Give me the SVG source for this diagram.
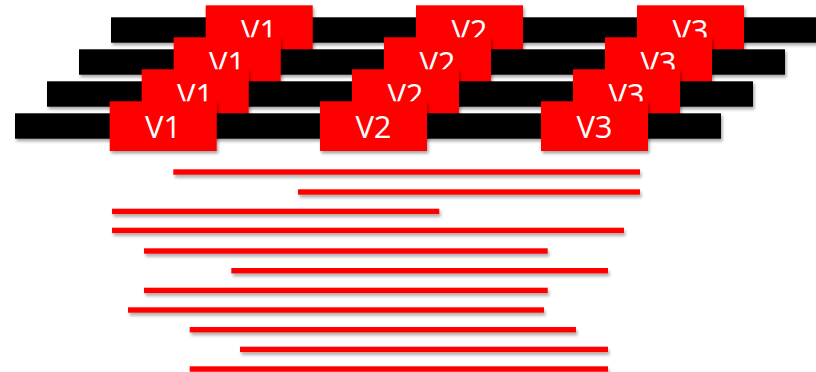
<svg xmlns="http://www.w3.org/2000/svg" width="816" height="372" viewBox="0 0 816 372">
  <defs>
    <filter id="shadow" x="-5%" y="-30%" width="110%" height="180%">
      <feDropShadow dx="1.5" dy="2.5" stdDeviation="1.6" flood-color="#000" flood-opacity="0.35"/>
    </filter>
    <filter id="lineShadow" x="-5%" y="-100%" width="110%" height="400%">
      <feDropShadow dx="1.5" dy="3" stdDeviation="1.8" flood-color="#000" flood-opacity="0.3"/>
    </filter>
  </defs>
  <style>
    .bar { fill: #000; filter: url(#shadow); }
    .box { fill: #ff0000; filter: url(#shadow); }
    .lbl { fill: #fff; font-family: "Open Sans", "Liberation Sans", sans-serif; font-size: 31px; text-anchor: middle; }
    .seg { fill: #ff0000; filter: url(#lineShadow); }
  </style>

  <rect width="816" height="372" fill="#fff"/>

  <!-- Stacked timelines, back row first; each row is shifted 32px left and down -->
  <g id="row0" transform="translate(96,-96)">
    <rect class="bar" x="15" y="113.3" width="706" height="25.4"/>
    <g id="row0-v1"><rect class="box" x="109.7" y="101.3" width="107" height="49.7"/><text class="lbl" x="163.2" y="138.3">V1</text></g>
    <g id="row0-v2"><rect class="box" x="320" y="101.3" width="107" height="49.7"/><text class="lbl" x="373.5" y="138.3">V2</text></g>
    <g id="row0-v3"><rect class="box" x="541" y="101.3" width="107" height="49.7"/><text class="lbl" x="594.5" y="138.3">V3</text></g>
  </g>
  <g id="row1" transform="translate(64,-64)">
    <rect class="bar" x="15" y="113.3" width="706" height="25.4"/>
    <g id="row1-v1"><rect class="box" x="109.7" y="101.3" width="107" height="49.7"/><text class="lbl" x="163.2" y="138.3">V1</text></g>
    <g id="row1-v2"><rect class="box" x="320" y="101.3" width="107" height="49.7"/><text class="lbl" x="373.5" y="138.3">V2</text></g>
    <g id="row1-v3"><rect class="box" x="541" y="101.3" width="107" height="49.7"/><text class="lbl" x="594.5" y="138.3">V3</text></g>
  </g>
  <g id="row2" transform="translate(32,-32)">
    <rect class="bar" x="15" y="113.3" width="706" height="25.4"/>
    <g id="row2-v1"><rect class="box" x="109.7" y="101.3" width="107" height="49.7"/><text class="lbl" x="163.2" y="138.3">V1</text></g>
    <g id="row2-v2"><rect class="box" x="320" y="101.3" width="107" height="49.7"/><text class="lbl" x="373.5" y="138.3">V2</text></g>
    <g id="row2-v3"><rect class="box" x="541" y="101.3" width="107" height="49.7"/><text class="lbl" x="594.5" y="138.3">V3</text></g>
  </g>
  <g id="row3">
    <rect class="bar" x="15" y="113.3" width="706" height="25.4"/>
    <g id="row3-v1"><rect class="box" x="109.7" y="101.3" width="107" height="49.7"/><text class="lbl" x="163.2" y="138.3">V1</text></g>
    <g id="row3-v2"><rect class="box" x="320" y="101.3" width="107" height="49.7"/><text class="lbl" x="373.5" y="138.3">V2</text></g>
    <g id="row3-v3"><rect class="box" x="541" y="101.3" width="107" height="49.7"/><text class="lbl" x="594.5" y="138.3">V3</text></g>
  </g>

  <!-- Interval segments -->
  <g id="segments">
    <rect class="seg" x="173.3" y="169.3" width="466.7" height="5.4"/>
    <rect class="seg" x="298" y="189.3" width="342" height="5.4"/>
    <rect class="seg" x="112" y="208.7" width="327.3" height="5.4"/>
    <rect class="seg" x="112" y="227.7" width="512" height="5.4"/>
    <rect class="seg" x="144" y="248.3" width="403.7" height="5.4"/>
    <rect class="seg" x="231.3" y="268" width="376.7" height="5.4"/>
    <rect class="seg" x="144" y="287.7" width="403.7" height="5.4"/>
    <rect class="seg" x="128" y="307.3" width="416" height="5.4"/>
    <rect class="seg" x="189.7" y="327" width="386.3" height="5.4"/>
    <rect class="seg" x="240" y="346.7" width="368" height="5.4"/>
    <rect class="seg" x="189.7" y="366.3" width="418.3" height="5.4"/>
  </g>
</svg>
